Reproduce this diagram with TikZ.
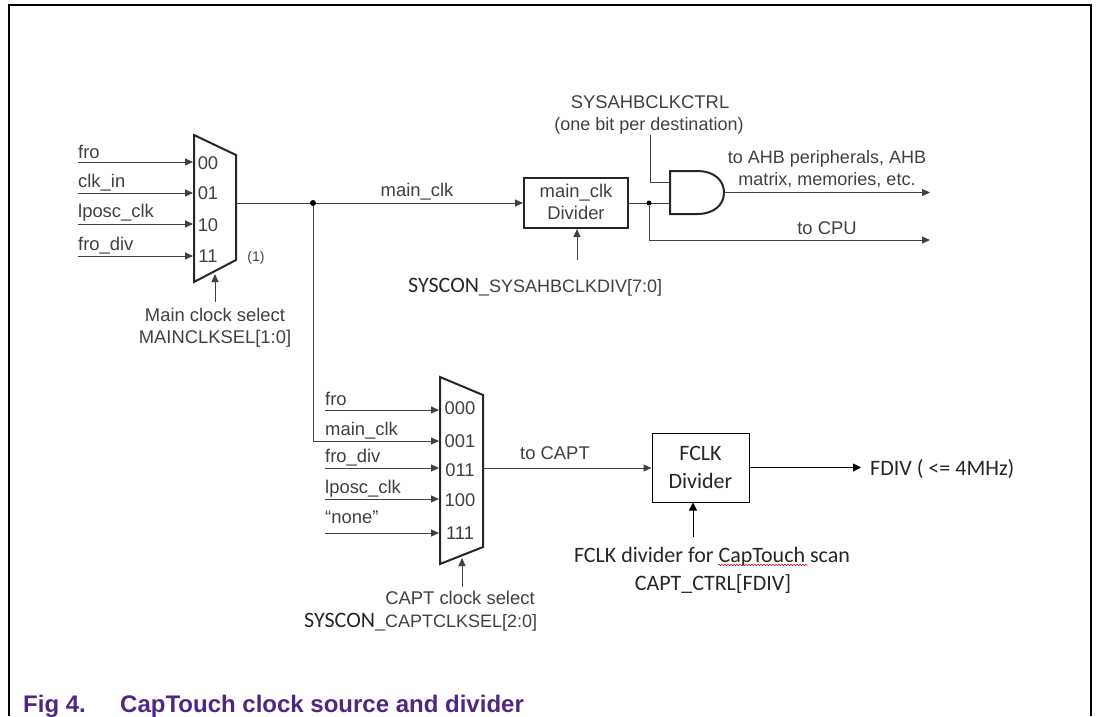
\documentclass[tikz,border=0pt]{standalone}
\usepackage{fontspec}
\setmainfont{Liberation Sans}
\newfontfamily\calfont{Carlito}
\usetikzlibrary{arrows.meta,decorations.pathmorphing}
\definecolor{ink}{HTML}{404040}
\definecolor{capt}{HTML}{4F2683}
\tikzset{
  wire/.style={draw=ink,line width=1pt},
  arrowwire/.style={wire,-{Triangle[length=8pt,width=7pt]}},
  blackwire/.style={draw=black,line width=1pt,-{Triangle[length=8pt,width=8pt]}},
  heavy/.style={draw=black!85,line width=2pt,line join=miter},
  dot/.style={circle,fill=black,inner sep=0pt,minimum size=5pt},
  lab/.style={inner sep=0pt,text=ink,font=\fontsize{18.4}{18.4}\selectfont,anchor=base},
  labs/.style={lab,font=\fontsize{18}{18}\selectfont},
  labl/.style={lab,anchor=base west},
  cal/.style={inner sep=0pt,text=black!85,font=\calfont\fontsize{22}{22}\selectfont,anchor=base},
  capfont/.style={inner sep=0pt,text=capt,font=\bfseries\fontsize{24}{24}\selectfont,anchor=base west},
}
\newcommand{\arialpart}{\fontspec{Liberation Sans}\fontsize{18}{18}\selectfont\color{ink}}
\begin{document}
\begin{tikzpicture}[x=1pt,y=-1pt]
\useasboundingbox (0,0) rectangle (1097,716);
% frame
\draw[draw=black,line width=2pt] (9,716) -- (9,5) -- (1091,5) -- (1091,716);
% main mux
\coordinate (mA) at (194,135); \coordinate (mB) at (236,155);
\coordinate (mC) at (236,260); \coordinate (mD) at (194,282);
\draw[heavy] (mA) -- (mB) -- (mC) -- (mD) -- cycle;
\foreach \n/\y/\t/\lab/\ly/\by in {0/162/fro/00/163/158,1/193/clk\_in/01/193/187,2/224/lposc\_clk/10/225/217,3/256/fro\_div/11/256/250}{
  \coordinate (mi\n) at (78,\y);
  \coordinate (mt\n) at (193,\y);
  \draw[arrowwire] (mi\n) -- (mt\n);
  \node[labl] (mil\n) at (78,\by) {\t};
  \node[lab] (mn\n) at (208,\ly+6.5) {\lab};
}
\node[lab,font=\fontsize{14}{14}\selectfont] (note) at (256,261) {(1)};
\coordinate (msel) at (215,302); \coordinate (mselt) at (215,274);
\draw[arrowwire] (msel) -- (mselt);
\node[lab] (ms1) at (215,321) {Main clock select};
\node[lab] (ms2) at (215,343) {MAINCLKSEL[1:0]};
% main_clk
\coordinate (mo) at (236,203);
\node[draw=black!85,line width=2pt,minimum width=104pt,minimum height=50pt,inner sep=0pt] (div) at (576,203) {};
\node[lab] (dl1) at (576,197) {main\_clk};
\node[lab] (dl2) at (576,219) {Divider};
\draw[arrowwire] (mo) -- (div.west);
\node[dot,minimum size=6pt] (j1) at (313,203) {};
\node[lab] (mcl) at (417,196) {main\_clk};
\coordinate (dsel) at (577,260);
\draw[arrowwire] (dsel) -- (div.south -| dsel);
\node[cal,anchor=base west] (dsl) at (408,292) {SYSCON\arialpart\_SYSAHBCLKDIV[7:0]};
% AND
\coordinate (gA) at (670,171); \coordinate (gB) at (697,171);
\coordinate (gC) at (697,214); \coordinate (gD) at (670,214);
\coordinate (gi1) at (670,182); \coordinate (gi2) at (670,203); \coordinate (go) at (724,192.5);
\draw[wire] (div.east) -- (gi2);
\node[dot] (j2) at (649,203) {};
\coordinate (ctl) at (650,135);
\draw[wire] (ctl) |- (gi1);
\draw[heavy] (gA) -- (gB) .. controls (715,171) and (724,181) .. (go) .. controls (724,204) and (715,214) .. (gC) -- (gD) -- cycle;
\coordinate (ahb) at (930,192.5); \coordinate (cpu) at (930,240);
\draw[arrowwire] (go) -- (ahb);
\draw[arrowwire] (j2) |- (cpu);
\node[lab] (c1) at (650,108) {SYSAHBCLKCTRL};
\node[labs] (c2) at (649,130) {(one bit per destination)};
\node[labs] (a1) at (827,163) {to AHB peripherals, AHB};
\node[labs] (a2) at (827,185) {matrix, memories, etc.};
\node[lab] (cp) at (827,234) {to CPU};
% CAPT mux
\coordinate (cA) at (440,377); \coordinate (cB) at (483,395);
\coordinate (cC) at (483,547); \coordinate (cD) at (440,564);
\draw[heavy] (cA) -- (cB) -- (cC) -- (cD) -- cycle;
\foreach \n/\y/\t/\lab/\ly/\by in {0/410/fro/000/408/405,1/441/main\_clk/001/441/435,2/468/fro\_div/011/470/462,3/499/lposc\_clk/100/500/493,4/533/“none”/111/533/523}{
  \coordinate (ci\n) at (325,\y);
  \coordinate (ct\n) at (439,\y);
  \draw[arrowwire] (ci\n) -- (ct\n);
  \node[labl] (cil\n) at (325,\by) {\t};
  \node[lab] (cn\n) at (460,\ly+6.5) {\lab};
}
\draw[wire] (j1) |- (ci1);
\coordinate (csel) at (462,587); \coordinate (cselt) at (462,558);
\draw[arrowwire] (csel) -- (cselt);
\node[lab] (cs1) at (460,604) {CAPT clock select};
\node[cal,anchor=base west] (cs2) at (304,627) {SYSCON\arialpart\_CAPTCLKSEL[2:0]};
% FCLK
\node[draw=black,line width=1pt,minimum width=97pt,minimum height=69pt,inner sep=0pt] (fclk) at (700.5,467.5) {};
\node[cal] (f1) at (700.5,460) {FCLK};
\node[cal] (f2) at (700.5,488) {Divider};
\coordinate (co) at (483,468);
\draw[arrowwire] (co) -- (fclk.west |- co);
\node[lab] (tc) at (555,459) {to CAPT};
\coordinate (fo) at (861,467.5);
\draw[blackwire] (fclk.east) -- (fo);
\node[cal,anchor=base west] (fd) at (870,475) {FDIV ( <= 4MHz)};
\coordinate (fs) at (693,537);
\draw[blackwire] (fs) -- (fclk.south -| fs);
\node[cal] (fs1) at (712,562) {FCLK divider for CapTouch scan};
\node[cal] (fs2) at (713,590) {CAPT\_CTRL[FDIV]};
\draw[red!80!black,line width=0.5pt,decorate,decoration={snake,amplitude=0.8pt,segment length=3pt}] (718,565) -- (808,565);
% caption
\node[capfont] (cap0) at (23,712) {Fig 4.};
\node[capfont] (cap1) at (120,712) {CapTouch clock source and divider};
\end{tikzpicture}
\end{document}
